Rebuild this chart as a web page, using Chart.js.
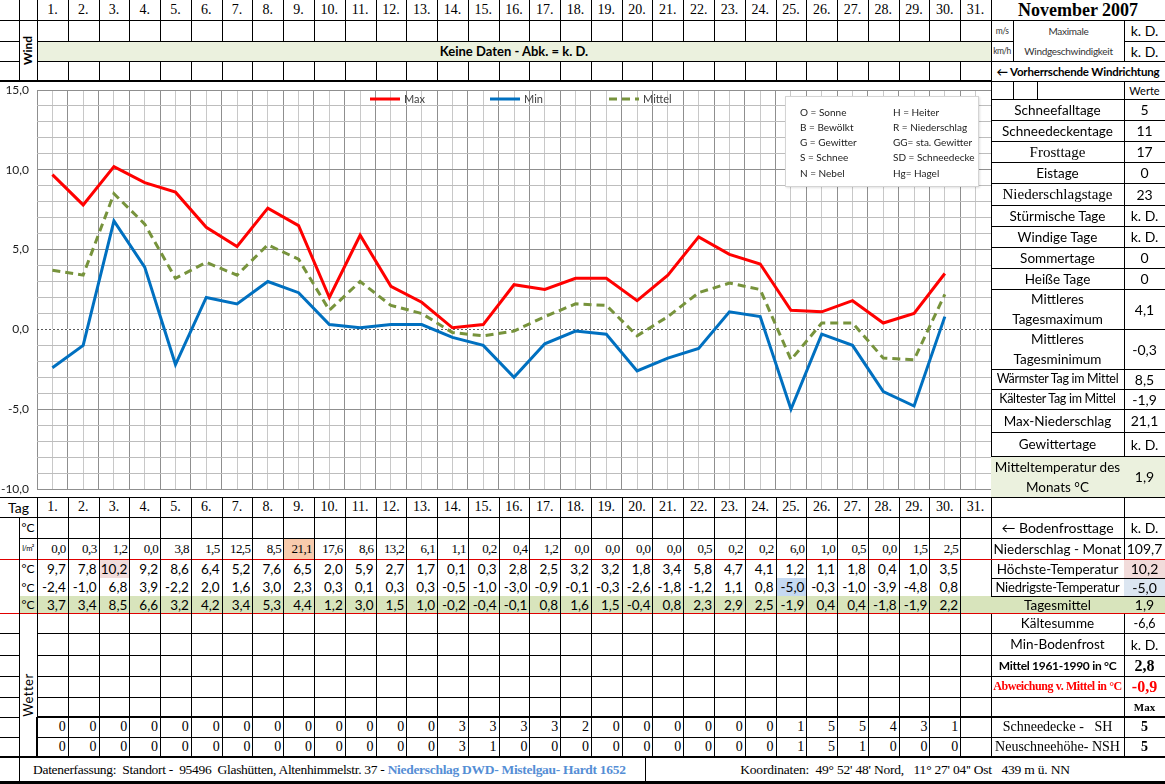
<!DOCTYPE html>
<html lang="de">
<head>
<meta charset="utf-8">
<title>November 2007</title>
<script src="https://cdn.jsdelivr.net/npm/chart.js@4.4.0/dist/chart.umd.min.js"></script>
<style>
  body { margin: 0; background: #fff; }
  #sheet { position: relative; width: 1165px; height: 784px; overflow: hidden; font-family: Lato, "Open Sans", sans-serif; color: #000; }
  .c { position: absolute; box-sizing: border-box; display: flex; align-items: center; justify-content: center; white-space: nowrap; overflow: hidden; font-size: 13px; }
  .ln { position: absolute; }
  .rot { display: inline-block; transform: rotate(-90deg); }
  #chartWrap { position: absolute; left: 0; top: 81px; width: 991px; height: 416px; }
  #abbr { position: absolute; left: 785px; top: 96px; width: 194px; height: 91px; box-sizing: border-box; background: #fff; border: 1px solid #d4d4d4; box-shadow: 1px 1px 2px rgba(0,0,0,0.12); font-size: 10px; color: #222; }
  #abbr span { position: absolute; white-space: nowrap; }
</style>
</head>
<body>
<div id="sheet">
  <div id="chartWrap"><canvas id="tempChart"></canvas></div>
</div>
<script>
// Tageswerte November 2007 (Tag 31 gibt es nicht)
const days = ['1.', '2.', '3.', '4.', '5.', '6.', '7.', '8.', '9.', '10.', '11.', '12.', '13.', '14.', '15.', '16.',
              '17.', '18.', '19.', '20.', '21.', '22.', '23.', '24.', '25.', '26.', '27.', '28.', '29.', '30.', '31.'];
const tMax = [9.7, 7.8, 10.2, 9.2, 8.6, 6.4, 5.2, 7.6, 6.5, 2.0, 5.9, 2.7, 1.7, 0.1, 0.3, 2.8, 2.5, 3.2, 3.2, 1.8,
              3.4, 5.8, 4.7, 4.1, 1.2, 1.1, 1.8, 0.4, 1.0, 3.5, null];
const tMin = [-2.4, -1.0, 6.8, 3.9, -2.2, 2.0, 1.6, 3.0, 2.3, 0.3, 0.1, 0.3, 0.3, -0.5, -1.0, -3.0, -0.9, -0.1, -0.3, -2.6,
              -1.8, -1.2, 1.1, 0.8, -5.0, -0.3, -1.0, -3.9, -4.8, 0.8, null];
const tMean = [3.7, 3.4, 8.5, 6.6, 3.2, 4.2, 3.4, 5.3, 4.4, 1.2, 3.0, 1.5, 1.0, -0.2, -0.4, -0.1, 0.8, 1.6, 1.5, -0.4,
               0.8, 2.3, 2.9, 2.5, -1.9, 0.4, 0.4, -1.8, -1.9, 2.2, null];
const precip = [0.0, 0.3, 1.2, 0.0, 3.8, 1.5, 12.5, 8.5, 21.1, 17.6, 8.6, 13.2, 6.1, 1.1, 0.2, 0.4, 1.2, 0.0, 0.0, 0.0,
                0.0, 0.5, 0.2, 0.2, 6.0, 1.0, 0.5, 0.0, 1.5, 2.5, null];
const snowDepth = [0, 0, 0, 0, 0, 0, 0, 0, 0, 0, 0, 0, 0, 3, 3, 3, 3, 2, 0, 0, 0, 0, 0, 0, 1, 5, 5, 4, 3, 1, null];
const newSnow = [0, 0, 0, 0, 0, 0, 0, 0, 0, 0, 0, 0, 0, 3, 1, 0, 0, 0, 0, 0, 0, 0, 0, 0, 1, 5, 1, 0, 0, 0, null];

const seriesNames = ['Max', 'Min', 'Mittel'];
const yTicks = [-10, -5, 0, 5, 10, 15];

// Monatswerte rechts
const sideLabels = ['Schneefalltage', 'Schneedeckentage', 'Frosttage', 'Eistage', 'Niederschlagstage', 'Stürmische Tage',
                    'Windige Tage', 'Sommertage', 'Heiße Tage', 'Mittleres\nTagesmaximum', 'Mittleres\nTagesminimum',
                    'Wärmster Tag im Mittel', 'Kältester Tag im Mittel', 'Max-Niederschlag', 'Gewittertage',
                    'Mitteltemperatur des\nMonats °C'];
const sideValues = ['5', '11', '17', '0', '23', 'k. D.', 'k. D.', '0', '0', '4,1', '-0,3', '8,5', '-1,9', '21,1', 'k. D.', '1,9'];
const lowLabels = ['', '← Bodenfrosttage', 'Niederschlag - Monat', 'Höchste-Temperatur', 'Niedrigste-Temperatur',
                   'Tagesmittel', 'Kältesumme', 'Min-Bodenfrost', 'Mittel 1961-1990 in °C', 'Abweichung v. Mittel in °C',
                   '', 'Schneedecke -   SH', 'Neuschneehöhe- NSH'];
const lowValues = ['', 'k. D.', '109,7', '10,2', '-5,0', '1,9', '-6,6', 'k. D.', '2,8', '-0,9', 'Max', '5', '5'];
const abbrLeft = ['O = Sonne', 'B = Bewölkt', 'G = Gewitter', 'S = Schnee', 'N = Nebel'];
const abbrRight = ['H = Heiter', 'R = Niederschlag', 'GG= sta. Gewitter', 'SD = Schneedecke', 'Hg= Hagel'];

const sheet = document.getElementById('sheet');
const X0 = 37, XR = 991, CW = (XR - X0) / 31;
const dx = i => X0 + i * CW;
const fmt = v => v.toFixed(1).replace('.', ',');

function box(x, y, w, h, html, css) {
  const d = document.createElement('div');
  d.className = 'c';
  Object.assign(d.style, { left: x + 'px', top: y + 'px', width: w + 'px', height: h + 'px' }, css || {});
  d.innerHTML = html;
  sheet.appendChild(d);
  return d;
}
function line(x, y, w, h, col) {
  const d = document.createElement('div');
  d.className = 'ln';
  Object.assign(d.style, { left: x + 'px', top: y + 'px', width: w + 'px', height: h + 'px', background: col || '#000' });
  sheet.appendChild(d);
}
const H = (x1, x2, y, t, col) => line(x1, y - Math.floor((t || 1) / 2), x2 - x1, t || 1, col);
const V = (x, y1, y2, t, col) => line(Math.round(x) - Math.floor((t || 1) / 2), y1, t || 1, y2 - y1, col);
const serif = { fontFamily: '"Liberation Serif", serif' };

// ---- oberer Block: Wind ----
days.forEach((d, i) => box(dx(i), 0, CW, 20, d, { ...serif, fontSize: '14px' }));
box(37, 41, XR - 37, 20, 'Keine Daten - Abk. = k. D.', { background: '#ebf1de', fontWeight: 'bold', fontSize: '13px' });
box(19, 20, 18, 61, '<span class="rot">Wind</span>', { fontWeight: 'bold', fontSize: '12px' });
box(991, 0, 174, 20, 'November 2007', { ...serif, fontWeight: 'bold', fontSize: '18px' });
box(991, 20, 22, 21, 'm/s', { fontSize: '8.5px', letterSpacing: '-0.5px', color: '#333' });
box(991, 41, 22, 20, 'km/h', { fontSize: '8.5px', letterSpacing: '-0.6px', color: '#333' });
box(1013, 20, 111, 41, 'Maximale<br>Windgeschwindigkeit', { fontSize: '10px', lineHeight: '20px', textAlign: 'center', color: '#333', letterSpacing: '-0.3px' });
box(1124, 20, 41, 21, 'k. D.', { fontSize: '14px' });
box(1124, 41, 41, 20, 'k. D.', { fontSize: '14px' });
box(991, 61, 174, 20, '&larr; Vorherrschende Windrichtung', { fontWeight: 'bold', fontSize: '11.5px', letterSpacing: '-0.2px' });
box(1124, 81, 41, 18, 'Werte', { fontSize: '11px' });

H(0, 1165, 20); H(0, 19, 41); H(37, 991, 41); H(991, 1013, 41); H(1124, 1165, 41);
H(0, 19, 61); H(37, 1165, 61); H(0, 991, 81, 2); H(991, 1165, 81);
V(19, 0, 81); V(37, 0, 81);
for (let i = 1; i < 31; i++) { V(dx(i), 0, 41); V(dx(i), 61, 81); }
V(991, 0, 757); V(1013, 20, 61); V(1124, 20, 61); V(1013, 81, 99); V(1037, 81, 99); V(1124, 81, 757);

// ---- rechter Block: Monatswerte ----
const sideRows = [99, 120, 141, 162, 183, 205, 226, 247, 268, 289, 329, 369, 389, 409, 432, 456, 497];
const serifSide = [2, 4];
sideLabels.forEach((lab, i) => {
  const y = sideRows[i], h = sideRows[i + 1] - y;
  const css = { fontSize: '13.5px', whiteSpace: 'pre-line', textAlign: 'center', lineHeight: '20px' };
  if (serifSide.includes(i)) Object.assign(css, serif, { fontSize: '15px' });
  if (i === 11 || i === 12) Object.assign(css, { fontSize: '12.5px', letterSpacing: '-0.3px' });
  if (i === 15) css.background = '#ebf1de';
  box(991, y, 133, h, lab, css);
  box(1124, y, 41, h, sideValues[i], { fontSize: '14px', background: i === 15 ? '#ebf1de' : '' });
});
sideRows.forEach(y => H(991, 1165, y));

// ---- Diagramm ----
const lineColors = ['#ff0000', '#0070c0', '#77933c'];
const zeroLine = {
  id: 'zeroLine',
  beforeDatasetsDraw(chart) {
    const { ctx, chartArea, scales } = chart;
    const y = Math.round(scales.y.getPixelForValue(0)) + 0.5;
    ctx.save();
    ctx.strokeStyle = '#ffffff';
    ctx.beginPath(); ctx.moveTo(chartArea.left, y); ctx.lineTo(chartArea.right, y); ctx.stroke();
    ctx.strokeStyle = '#5a5a5a';
    ctx.setLineDash([2, 2]);
    ctx.beginPath(); ctx.moveTo(chartArea.left, y); ctx.lineTo(chartArea.right, y); ctx.stroke();
    ctx.restore();
  }
};
const seriesLegend = {
  id: 'seriesLegend',
  afterDatasetsDraw(chart) {
    const { ctx } = chart;
    const xs = [370, 490, 609];
    chart.data.datasets.forEach((ds, i) => {
      ctx.save();
      ctx.strokeStyle = ds.borderColor;
      ctx.lineWidth = 3;
      ctx.setLineDash(ds.borderDash || []);
      ctx.beginPath(); ctx.moveTo(xs[i], 18); ctx.lineTo(xs[i] + 30, 18); ctx.stroke();
      ctx.fillStyle = '#404040';
      ctx.font = '11px Lato, sans-serif';
      ctx.textBaseline = 'middle';
      ctx.fillText(ds.label, xs[i] + 34, 18.5);
      ctx.restore();
    });
  }
};
const noHeight = scale => { scale.height = 0; };

new Chart(document.getElementById('tempChart'), {
  type: 'line',
  data: {
    labels: days,
    datasets: [
      { label: seriesNames[0], data: tMax, borderColor: lineColors[0], borderWidth: 3 },
      { label: seriesNames[1], data: tMin, borderColor: lineColors[1], borderWidth: 3 },
      { label: seriesNames[2], data: tMean, borderColor: lineColors[2], borderWidth: 3, borderDash: [8, 5] }
    ]
  },
  options: {
    responsive: true,
    maintainAspectRatio: false,
    animation: false,
    layout: { padding: { top: 9, bottom: 8, left: 0, right: 0 } },
    elements: { point: { radius: 0 }, line: { tension: 0, borderCapStyle: 'butt' } },
    plugins: { legend: { display: false }, tooltip: { enabled: false } },
    scales: {
      x: {
        offset: true,
        grid: { offset: true, color: '#8f8f8f', drawTicks: false },
        border: { display: false },
        ticks: { display: false },
        afterFit: noHeight
      },
      x2: {
        type: 'category',
        labels: days,
        position: 'bottom',
        offset: true,
        grid: { offset: false, color: '#c8c8c8', drawTicks: false },
        border: { display: false },
        ticks: { display: false },
        afterFit: noHeight
      },
      y: {
        min: yTicks[0],
        max: yTicks[yTicks.length - 1],
        border: { display: false },
        grid: {
          drawTicks: false,
          color: ctx => (ctx.tick && ctx.tick.value % 5 === 0) ? '#8f8f8f' : '#bdbdbd'
        },
        ticks: {
          stepSize: 1,
          autoSkip: false,
          padding: 8,
          color: '#1a1a1a',
          font: { family: 'Lato', size: 12 },
          callback: v => yTicks.includes(v) ? fmt(v) : ''
        },
        afterFit(scale) {
          scale.width = 37;
          scale.paddingTop = 0;
          scale.paddingBottom = 0;
        }
      }
    }
  },
  plugins: [zeroLine, seriesLegend]
});

const abbr = document.createElement('div');
abbr.id = 'abbr';
const abbrY = [15, 30, 45, 60, 76];
abbrLeft.forEach((t, i) => {
  abbr.insertAdjacentHTML('beforeend', `<span style="left:14px;top:${abbrY[i] - 6}px">${t}</span>`);
  abbr.insertAdjacentHTML('beforeend', `<span style="left:107px;top:${abbrY[i] - 6}px">${abbrRight[i]}</span>`);
});
sheet.appendChild(abbr);

// ---- unterer Block: Tabelle ----
box(0, 497, 37, 20, 'Tag', { fontSize: '14px' });
days.forEach((d, i) => box(dx(i), 497, CW, 20, d, { ...serif, fontSize: '14px' }));

box(19, 517, 18, 21, '°C', { fontSize: '12px' });
box(19, 538, 18, 21, 'l/m²', { fontSize: '7.5px', letterSpacing: '-0.5px' });
box(19, 559, 18, 19, '°C', { fontSize: '12px' });
box(19, 578, 18, 18, '°C', { fontSize: '12px' });
box(19, 596, 18, 17, '°C', { fontSize: '12px', background: '#d8e4bc' });
box(37, 596, XR - 37, 17, '', { background: '#d8e4bc' });

const numCss = { justifyContent: 'flex-end', paddingRight: '2px', fontSize: '13.5px' };
function valueRow(vals, y, h, css, hiIndex, hiColor) {
  vals.forEach((v, i) => {
    if (v === null) return;
    const extra = i === hiIndex ? { background: hiColor } : {};
    box(dx(i), y, CW, h, css.dec ? fmt(v) : String(v), { ...numCss, ...css.style, ...extra });
  });
}
valueRow(precip, 538, 21, { dec: true, style: { ...serif, fontSize: '13px', letterSpacing: '-0.6px' } }, 8, '#f8cbad');
valueRow(tMax, 559, 19, { dec: true, style: {} }, 2, '#f2dcdb');
valueRow(tMin, 578, 18, { dec: true, style: {} }, 24, '#c5d9f1');
valueRow(tMean, 596, 17, { dec: true, style: {} });
valueRow(snowDepth, 717, 20, { dec: false, style: { ...serif, fontSize: '14px' } });
valueRow(newSnow, 737, 20, { dec: false, style: { ...serif, fontSize: '14px' } });

box(19, 633, 18, 124, '<span class="rot">Wetter</span>', { fontSize: '13px', letterSpacing: '0.5px' });

const lowRows = [497, 517, 538, 559, 578, 596, 613, 633, 655, 676, 697, 717, 737, 757];
lowLabels.forEach((lab, i) => {
  const y = lowRows[i], h = lowRows[i + 1] - y;
  const lcss = { fontSize: '13.5px' }, vcss = { fontSize: '14px' };
  if (i === 1) lcss.fontSize = '14px';
  if (i === 4) Object.assign(lcss, { fontSize: '13px', letterSpacing: '-0.2px' });
  if (i === 5) { lcss.background = '#d8e4bc'; vcss.background = '#d8e4bc'; }
  if (i === 3) vcss.background = '#f2dcdb';
  if (i === 4) vcss.background = '#dce6f1';
  if (i === 6) vcss.fontSize = '12.5px';
  if (i === 8) { Object.assign(lcss, { fontWeight: 'bold', fontSize: '12px', letterSpacing: '-0.3px' }); Object.assign(vcss, serif, { fontWeight: 'bold', fontSize: '16px' }); }
  if (i === 9) { Object.assign(lcss, serif, { fontWeight: 'bold', fontSize: '12px', color: '#ff0000', letterSpacing: '-0.4px' }); Object.assign(vcss, serif, { fontWeight: 'bold', fontSize: '16px', color: '#ff0000' }); }
  if (i === 10) Object.assign(vcss, serif, { fontWeight: 'bold', fontSize: '11px' });
  if (i >= 11) { Object.assign(lcss, serif, { fontSize: '14px', whiteSpace: 'pre' }); Object.assign(vcss, serif, { fontWeight: 'bold', fontSize: '14px' }); }
  box(991, y, 133, h, lab, lcss);
  box(1124, y, 41, h, lowValues[i], vcss);
});

box(19, 757, 626, 26,
  'Datenerfassung:&nbsp; Standort -&nbsp; 95496&nbsp; Glashütten, Altenhimmelstr. 37 -&nbsp;<b style="color:#558ed5">Niederschlag DWD- Mistelgau- Hardt 1652</b>',
  { ...serif, fontSize: '13.5px', letterSpacing: '-0.3px', justifyContent: 'flex-start', paddingLeft: '14px' });
box(645, 757, 520, 26, 'Koordinaten:&nbsp; 49° 52\' 48\' Nord,&nbsp;&nbsp; 11° 27\' 04\'\' Ost&nbsp;&nbsp; 439 m ü. NN',
  { ...serif, fontSize: '13.5px', letterSpacing: '-0.2px' });

// Linien unten
H(0, 1165, 497); H(0, 1165, 517); H(19, 1165, 538);
H(0, 1165, 559, 1, '#e00000'); H(991, 1165, 578); H(991, 1165, 596); H(0, 1165, 613, 1, '#e00000');
[633, 655, 676, 697].forEach(y => { H(0, 19, y); H(37, 1165, y); });
H(0, 19, 717); H(37, 1165, 717, 2); H(0, 19, 737); H(37, 1165, 737);
H(0, 1165, 757, 2); H(0, 1165, 782, 3);
V(19, 517, 783); V(37, 497, 757); V(37, 717, 757, 2);
for (let i = 1; i < 31; i++) V(dx(i), 497, 757);
V(645, 757, 783);
</script>
</body>
</html>
